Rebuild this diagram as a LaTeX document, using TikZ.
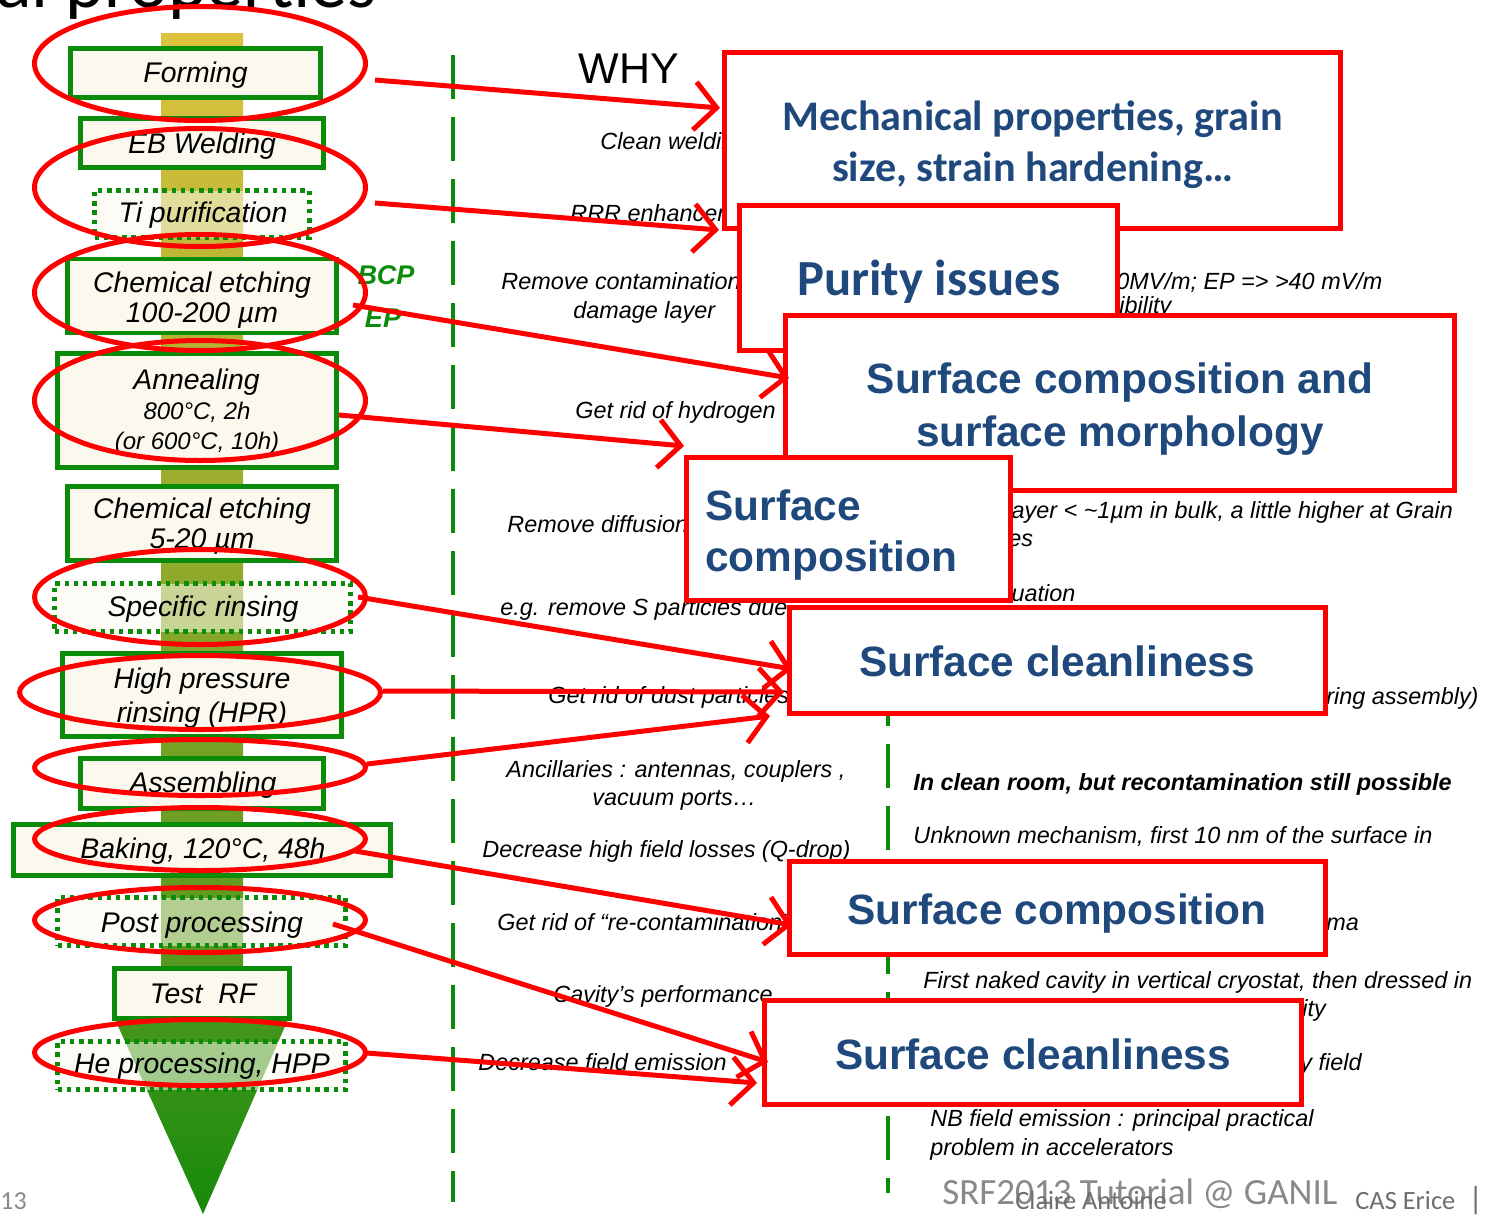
\documentclass[tikz,border=0pt]{standalone}
\usepackage{fontspec}
\setmainfont{Liberation Sans}
\newfontfamily\calibri{Carlito}
\usetikzlibrary{shapes.geometric,arrows.meta}
\definecolor{boxgreen}{RGB}{10,140,10}
\definecolor{ivory}{RGB}{251,249,238}
\definecolor{titleblue}{RGB}{31,73,125}
\definecolor{foot}{RGB}{137,137,137}
\definecolor{footdark}{RGB}{110,110,110}
\definecolor{redline}{RGB}{255,0,0}
\definecolor{barTop}{RGB}{222,194,62}
\definecolor{barMid}{RGB}{180,178,48}
\definecolor{barBot}{RGB}{78,150,28}
\definecolor{triTop}{RGB}{70,150,28}
\definecolor{triBot}{RGB}{22,138,10}
\tikzset{
  gbox/.style={rectangle, draw=boxgreen, line width=2.3pt, fill=ivory, inner sep=0pt, outer sep=0pt},
  gdot/.style={gbox, fill opacity=0.55, dash pattern=on 2.2pt off 2.4pt},
  gtxt/.style={anchor=base, inner sep=0pt, font=\fontsize{14.2}{15.2}\selectfont\itshape},
  gtxts/.style={anchor=base, inner sep=0pt, font=\fontsize{12}{14}\selectfont\itshape},
  ell/.style={ellipse, draw=redline, line width=2.5pt, inner sep=0pt, outer sep=0pt},
  rbox/.style={rectangle, draw=redline, line width=2.5pt, fill=white, inner sep=0pt, outer sep=0pt},
  btxt/.style={anchor=base, inner sep=0pt, text=titleblue, font=\fontsize{21.2}{26.5}\selectfont\bfseries},
  ctxt/.style={anchor=base, inner sep=0pt, text=titleblue, font=\calibri\fontsize{21.1}{25.5}\selectfont\bfseries},
  smalltxt/.style={anchor=base west, inner sep=0pt, font=\fontsize{11.7}{14}\selectfont\itshape},
  redarrow/.style={draw=redline, line width=2.5pt, -{Straight Barb[length=11pt,width=24pt]}},
  gdash/.style={draw=boxgreen, line width=2pt, dash pattern=on 22pt off 9pt},
  foottxt/.style={anchor=base west, inner sep=0pt, text=foot}
}
\begin{document}
\begin{tikzpicture}[x=0.5pt,y=-0.5pt]
\useasboundingbox (0,0) rectangle (1487,1215);
\clip (0,0) rectangle (1487,1215);
\fill[white] (0,0) rectangle (1487,1215);

% title (cut at top)
\node[anchor=base east, inner sep=0pt, font=\calibri\fontsize{37}{40}\selectfont] (title) at (377,8) {al properties};

% dashed separators
\coordinate (d1a) at (453,55); \coordinate (d1b) at (453,1202);
\coordinate (d2a) at (888,682); \coordinate (d2b) at (888,1193);
\draw[gdash] (d1a) -- (d1b);
\draw[gdash] (d2a) -- (d2b);

% process bar and arrow head
\shade[top color=barTop, middle color=barMid, bottom color=barBot] (161,33) rectangle (243,1020);
\shade[top color=triTop, bottom color=triBot] (113,1015) -- (290,1015) -- (203,1214) -- cycle;

% process steps
\node[gbox, minimum width=125pt, minimum height=24.5pt] (forming) at (195.5,73) {};
\node[gtxt] (formingT) at (195.5,82) {Forming};
\node[gbox, minimum width=121.5pt, minimum height=24.5pt] (ebw) at (202,143) {};
\node[gtxt] (ebwT) at (202,153) {EB Welding};
\node[gdot, minimum width=107.5pt, minimum height=23.5pt] (ti) at (202,214) {};
\node[gtxt] (tiT) at (203,222) {Ti purification};
\node[gbox, minimum width=134.5pt, minimum height=37pt] (chem1) at (202,296) {};
\node[gtxt] (chem1T) at (202,292.5) {Chemical etching};
\node[gtxt] (chem1U) at (202,322) {100-200 µm};
\node[gbox, minimum width=139.5pt, minimum height=57pt] (anneal) at (197,410.5) {};
\node[gtxt] (annealT) at (196.5,389.5) {Annealing};
\node[gtxts] (annealU) at (197,419) {800°C, 2h};
\node[gtxts] (annealV) at (197,449) {(or 600°C, 10h)};
\node[gbox, minimum width=134.5pt, minimum height=37pt] (chem2) at (202,523.5) {};
\node[gtxt] (chem2T) at (202,518.5) {Chemical etching};
\node[gtxt] (chem2U) at (202,548) {5-20 µm};
\node[gdot, minimum width=148pt, minimum height=24pt] (rinse) at (202.5,607.5) {};
\node[gtxt] (rinseT) at (203,616) {Specific rinsing};
\node[gbox, minimum width=139.5pt, minimum height=41.5pt] (hpr) at (202,695) {};
\node[gtxt] (hprT) at (202,688) {High pressure};
\node[gtxt] (hprU) at (202,722) {rinsing (HPR)};
\node[gbox, minimum width=121.5pt, minimum height=25pt] (assem) at (202,783.5) {};
\node[gtxt] (assemT) at (203,792) {Assembling};
\node[gbox, minimum width=188.5pt, minimum height=25.5pt] (bake) at (202,850) {};
\node[gtxt] (bakeT) at (203,858) {Baking, 120°C, 48h};
\node[gdot, minimum width=144pt, minimum height=24pt] (post) at (201.5,921.5) {};
\node[gtxt] (postT) at (202,932) {Post processing};
\node[gbox, minimum width=87.5pt, minimum height=25pt] (testrf) at (202,993.5) {};
\node[gtxt] (testrfT) at (203,1003) {Test\ \ RF};
\node[gdot, minimum width=144pt, minimum height=24pt] (hpp) at (201.5,1065.5) {};
\node[gtxt] (hppT) at (202,1073) {He processing, HPP};

\node[inner sep=0pt, text=boxgreen, font=\fontsize{13.5}{15}\selectfont\bfseries\itshape] (bcp) at (386,275) {BCP};
\node[inner sep=0pt, text=boxgreen, font=\fontsize{13.5}{15}\selectfont\bfseries\itshape] (ep) at (383,318) {EP};

% WHY column
\node[anchor=base, inner sep=0pt, font=\fontsize{21.5}{24}\selectfont] (why) at (629,83) {WHY};
\node[smalltxt] (w1) at (600,149) {Clean welding};
\node[smalltxt] (w2) at (570,221) {RRR enhancement};
\node[smalltxt] (w3) at (501,289) {Remove contamination,};
\node[smalltxt] (w3b) at (573,318) {damage layer};
\node[smalltxt] (w4) at (575,418) {Get rid of hydrogen};
\node[smalltxt] (w5) at (507,532) {Remove diffusion};
\node[smalltxt] (w6) at (500,615) {e.g. remove S particles due};
\node[smalltxt] (w7) at (548,703) {Get rid of dust particles};
\node[smalltxt] (w8) at (506,777) {Ancillaries : antennas, couplers ,};
\node[smalltxt] (w8b) at (592,805) {vacuum ports…};
\node[smalltxt] (w9) at (482,857) {Decrease high field losses (Q-drop)};
\node[smalltxt] (w10) at (497,930) {Get rid of “re-contamination”};
\node[smalltxt] (w11) at (553,1002) {Cavity’s performance};
\node[smalltxt] (w12) at (478,1070) {Decrease field emission};

% comment column
\node[smalltxt] (c1) at (1116,289) {0MV/m; EP => >40 mV/m};
\node[smalltxt] (c1b) at (1119,313) {ibility};
\node[smalltxt] (c2) at (1006,518) {layer < \textasciitilde1µm in bulk, a little higher at Grain};
\node[smalltxt] (c2b) at (1008,546) {es};
\node[smalltxt] (c3) at (1006,601) {luation};
\node[smalltxt] (c4) at (1326,704) {ring assembly)};
\node[smalltxt, font=\fontsize{11.7}{14}\selectfont\bfseries\itshape] (c5) at (913,790) {In clean room, but recontamination still possible};
\node[smalltxt] (c6) at (913,843) {Unknown mechanism, first 10 nm of the surface in};
\node[smalltxt] (c7) at (1326,930) {ma};
\node[smalltxt] (c8) at (923,988) {First naked cavity in vertical cryostat, then dressed in};
\node[smalltxt] (c8b) at (1302,1016) {ity};
\node[smalltxt] (c9) at (1300,1070) {y field};
\node[smalltxt] (c10) at (930,1126) {NB field emission : principal practical};
\node[smalltxt] (c10b) at (930,1155) {problem in accelerators};

% red ellipses
\node[ell, minimum width=165.5pt, minimum height=57pt] (E1) at (200,63.5) {};
\node[ell, minimum width=165.5pt, minimum height=59pt] (E2) at (200,187.5) {};
\node[ell, minimum width=165.5pt, minimum height=58pt] (E3) at (200,292.5) {};
\node[ell, minimum width=165.5pt, minimum height=60pt] (E4) at (200,400.5) {};
\node[ell, minimum width=165.5pt, minimum height=47.5pt] (E5) at (200,597) {};
\node[ell, minimum width=180.5pt, minimum height=37pt] (E6) at (200,692.5) {};
\node[ell, minimum width=165.5pt, minimum height=28pt] (E7) at (200,767.5) {};
\node[ell, minimum width=165.5pt, minimum height=31.5pt] (E8) at (200,839) {};
\node[ell, minimum width=165.5pt, minimum height=32.5pt] (E9) at (200,920) {};
\node[ell, minimum width=165.5pt, minimum height=33pt] (E10) at (200,1052.5) {};

% red boxes
\node[rbox, minimum width=308pt, minimum height=88pt] (B1) at (1032.5,140.5) {};
\node[ctxt] (B1a) at (1032.5,130) {Mechanical properties, grain};
\node[ctxt] (B1b) at (1032.5,181) {size, strain hardening…};
\node[rbox, minimum width=189pt, minimum height=72.5pt] (B2) at (928.5,278) {};
\node[ctxt, font=\calibri\fontsize{25.3}{28}\selectfont\bfseries] (B2a) at (929,295) {Purity issues};
\node[rbox, minimum width=334.5pt, minimum height=87.5pt] (B3) at (1120,403) {};
\node[btxt] (B3a) at (1120,393) {Surface composition and};
\node[btxt] (B3b) at (1120,446) {surface morphology};
\node[rbox, minimum width=162pt, minimum height=71.5pt] (B4) at (848.5,529) {};
\node[btxt, anchor=base west] (B4a) at (705,520) {Surface};
\node[btxt, anchor=base west] (B4b) at (705,571) {composition};
\node[rbox, minimum width=268pt, minimum height=53pt] (B5) at (1057.5,660.5) {};
\node[btxt] (B5a) at (1057,676) {Surface cleanliness};
\node[rbox, minimum width=268pt, minimum height=46.5pt] (B6) at (1057.5,908) {};
\node[btxt] (B6a) at (1057,924) {Surface composition};
\node[rbox, minimum width=268.5pt, minimum height=52pt] (B7) at (1033,1052.5) {};
\node[btxt] (B7a) at (1033,1069) {Surface cleanliness};

% arrows
\coordinate (s1) at (375,80);   \coordinate (t1) at (720,108);
\coordinate (s2) at (375,203);  \coordinate (t2) at (719,230);
\coordinate (s3) at (353,305);  \coordinate (t3) at (789,378);
\coordinate (s4) at (339,415);  \coordinate (t4) at (684,446);
\coordinate (s5) at (358,597);  \coordinate (t5) at (792,669);
\coordinate (s6) at (383,691);  \coordinate (t6) at (784,692);
\coordinate (s7) at (367,764);  \coordinate (t7) at (770,716);
\coordinate (s8) at (355,851);  \coordinate (t8) at (792,925);
\coordinate (s9) at (333,924);  \coordinate (t9) at (768,1062);
\coordinate (s10) at (367,1053); \coordinate (t10) at (757,1083);
\foreach \i in {1,...,10} {\draw[redarrow] (s\i) -- (t\i);}

% footer
\node[foottxt, font=\calibri\fontsize{13}{15}\selectfont] (pnum) at (0,1209) {13};
\node[foottxt, font=\calibri\fontsize{18.5}{20}\selectfont] (f1) at (942,1204) {SRF2013 Tutorial @ GANIL};
\node[foottxt, text=footdark, font=\calibri\fontsize{13.2}{15}\selectfont] (f2) at (1015,1209) {Claire Antoine};
\node[foottxt, text=footdark, font=\calibri\fontsize{13.2}{15}\selectfont] (f3) at (1355,1209) {CAS Erice};
\node[foottxt, text=footdark, font=\calibri\fontsize{16}{18}\selectfont] (f4) at (1468,1209) {|};
\end{tikzpicture}
\end{document}
